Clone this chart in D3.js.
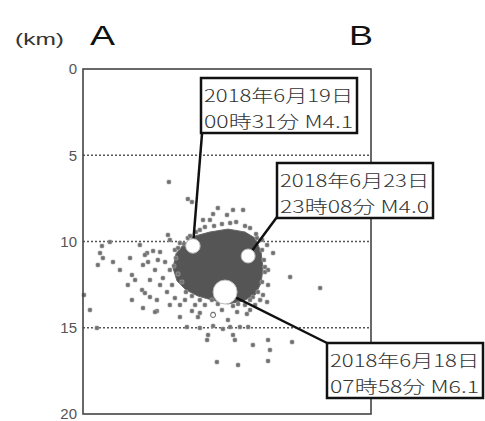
<!DOCTYPE html>
<html>
<head>
<meta charset="utf-8">
<script src="https://cdn.jsdelivr.net/npm/d3@7"></script>
<style>
  html, body { margin: 0; padding: 0; background: #fff; }
  svg { display: block; }
</style>
</head>
<body>
<div id="chart"></div>
<script>
// depth ticks (km)
const depthTicks = [0, 5, 10, 15, 20];
const gridDepths = [5, 10, 15];

// aftershock hypocenters: position along A-B (km from centre) and depth (km)
const quakeX = [
  -2.42, -1.63, -1.46, -1.00, -0.71, -0.38, 0.00, 0.25, 0.67, -0.58,
  -2.46, -2.38, -5.21, -4.88, -5.29, -5.38, -4.75, -5.17, -3.33, -3.08,
  -2.79, -3.42, -3.50, -3.29, -3.96, -3.83, -4.13, -3.54, -3.96, -3.21,
  -2.92, -3.50, -2.92, -5.71, -5.96, -5.42, -3.42, -3.00, -1.96, -1.46,
  -1.13, -0.58, 0.04, 0.25, 0.83, 1.08, 1.38, 1.67, 1.71, -1.67,
  -1.13, -0.58, -0.17, 0.13, 0.54, 0.88, -0.83, -0.79, 0.25, 0.33,
  1.08, 1.71, 1.79, 2.71, -0.42, 0.46, 1.71, 3.88, 1.67, 1.92,
  1.58, 2.63, 1.71, 1.50, -1.21, -0.21, 0.42,
  -2.58, -2.38, -2.67, -2.29, -2.50, -2.17, -2.79, -1.96, -1.75, -2.38,
  -3.00, -3.21, -2.88, -2.17, -1.96, -1.63, -1.33, -0.92, -0.63, 0.75,
  1.17, 0.96, -1.29, -0.92, -0.21, 0.38, 0.96, 1.25, 1.46, -3.63,
  -4.04, -4.46,
  -2.04, -2.13, -2.21, -2.04, -1.88, -1.71, -1.46, -1.13, -0.38, 0.46,
  0.96, 1.29, 1.46, 1.58, 1.54, 1.46, 1.21, 0.75, 0.13, -0.54,
  -1.13, -1.54, -1.79
];
const quakeDepth = [
  6.55, 7.54, 7.71, 8.75, 8.75, 8.06, 8.46, 8.17, 8.17, 8.41,
  9.62, 9.91, 10.26, 10.03, 10.67, 11.36, 11.19, 10.96, 10.67, 10.55,
  10.61, 10.78, 11.36, 11.19, 11.94, 12.23, 12.52, 12.81, 13.39, 13.22,
  13.39, 13.86, 14.03, 13.97, 13.10, 15.01, 12.99, 14.09, 14.38, 14.03,
  14.14, 14.20, 14.55, 13.74, 14.20, 13.22, 13.39, 13.51, 12.52, 14.96,
  15.01, 14.90, 15.07, 14.96, 14.96, 14.96, 15.71, 15.42, 15.42, 15.71,
  16.00, 15.71, 16.29, 15.83, 16.99, 17.16, 16.93, 12.70, 10.20, 10.67,
  11.48, 12.06, 11.65, 13.10, 14.38, 13.97, 14.09,
  11.19, 11.65, 12.12, 12.52, 12.93, 13.28, 12.52, 13.68, 13.39, 13.68,
  11.65, 12.23, 11.07, 10.49, 10.09, 9.80, 13.68, 13.68, 13.39, 13.68,
  13.68, 13.97, 9.45, 9.16, 8.99, 8.87, 9.22, 9.80, 10.49, 10.20,
  10.96, 11.65,
  10.38, 10.96, 11.42, 11.88, 12.35, 12.93, 13.16, 13.39, 13.62, 13.62,
  13.39, 12.93, 12.35, 11.77, 11.07, 9.91, 9.57, 9.10, 8.93, 9.10,
  9.33, 9.68, 10.14
];
// hollow marker
const hollowX = [-0.58];
const hollowDepth = [14.26];

// outline of the densest part of the swarm
const coreX = [-1.83, -1.33, -0.71, 0.04, 0.75, 1.17, 1.42, 1.50, 1.42, 1.17, 0.67, 0.04, -0.63, -1.21, -1.71, -2.08, -2.25, -2.13];
const coreDepth = [10.20, 9.68, 9.45, 9.28, 9.45, 9.80, 10.61, 11.54, 12.41, 13.10, 13.45, 13.62, 13.39, 13.16, 12.81, 12.29, 11.54, 10.72];

// labelled events
const eventDates = ['2018年6月19日', '2018年6月23日', '2018年6月18日'];
const eventTimes = ['00時31分 M4.1', '23時08分 M4.0', '07時58分 M6.1'];
const eventMag = [4.1, 4.0, 6.1];
const eventX = [-1.42, 0.88, -0.08];
const eventDepth = [10.26, 10.84, 12.93];

const width = 485;
const height = 421;
const margin = {top: 69, right: 114, bottom: 7, left: 83};

const svg = d3.select('#chart').append('svg')
  .attr('width', width)
  .attr('height', height);

const x = d3.scaleLinear()
  .domain([-6, 6])
  .range([margin.left, width - margin.right]);

const y = d3.scaleLinear()
  .domain([0, 20])
  .range([margin.top, height - margin.bottom]);

const r = d3.scaleLinear()
  .domain([4.0, 6.1])
  .range([7, 12]);

// Header labels
svg.append('text')
  .attr('x', 15).attr('y', 45)
  .attr('font-family', 'Liberation Sans, Arial, sans-serif')
  .attr('font-size', 17)
  .attr('fill', '#333')
  .attr('textLength', 49)
  .attr('lengthAdjust', 'spacingAndGlyphs')
  .text('(km)');

svg.append('text')
  .attr('x', 90).attr('y', 45)
  .attr('font-family', 'Liberation Sans, Arial, sans-serif')
  .attr('font-size', 28)
  .attr('fill', '#111')
  .attr('textLength', 25)
  .attr('lengthAdjust', 'spacingAndGlyphs')
  .text('A');

svg.append('text')
  .attr('x', 349).attr('y', 45)
  .attr('font-family', 'Liberation Sans, Arial, sans-serif')
  .attr('font-size', 28)
  .attr('fill', '#111')
  .attr('textLength', 24)
  .attr('lengthAdjust', 'spacingAndGlyphs')
  .text('B');

// Grid lines
svg.append('g')
  .selectAll('line')
  .data(gridDepths)
  .join('line')
  .attr('x1', x(-6)).attr('x2', x(6))
  .attr('y1', d => y(d)).attr('y2', d => y(d))
  .attr('stroke', '#555')
  .attr('stroke-width', 1.6)
  .attr('stroke-dasharray', '2,2');

// Y axis
svg.append('g')
  .attr('transform', `translate(${margin.left},0)`)
  .call(d3.axisLeft(y).tickValues(depthTicks).tickSize(0).tickPadding(6))
  .call(g => g.select('.domain').remove())
  .call(g => g.selectAll('text')
    .attr('font-family', 'Liberation Sans, Arial, sans-serif')
    .attr('font-size', 15)
    .attr('fill', '#555'));

// Swarm core
const core = coreX.map((d, i) => [x(d), y(coreDepth[i])]);
svg.append('path')
  .attr('d', d3.line().curve(d3.curveLinearClosed)(core))
  .attr('fill', '#555')
  .attr('stroke', '#666')
  .attr('stroke-width', 1);

// Aftershocks
const quakes = quakeX.map((d, i) => ({x: d, depth: quakeDepth[i]}));
svg.append('g')
  .selectAll('rect')
  .data(quakes)
  .join('rect')
  .attr('x', d => x(d.x) - 2)
  .attr('y', d => y(d.depth) - 2)
  .attr('width', 4)
  .attr('height', 4)
  .attr('rx', 1)
  .attr('fill', '#707070')
  .attr('stroke', '#aaa')
  .attr('stroke-width', 0.6);

svg.append('g')
  .selectAll('circle')
  .data(hollowX.map((d, i) => ({x: d, depth: hollowDepth[i]})))
  .join('circle')
  .attr('cx', d => x(d.x))
  .attr('cy', d => y(d.depth))
  .attr('r', 2.5)
  .attr('fill', '#fff')
  .attr('stroke', '#666')
  .attr('stroke-width', 1);

// Frame
svg.append('rect')
  .attr('x', x(-6)).attr('y', y(0))
  .attr('width', x(6) - x(-6))
  .attr('height', y(20) - y(0))
  .attr('fill', 'none')
  .attr('stroke', '#444')
  .attr('stroke-width', 1.6);

// Labelled events
const events = eventDates.map((d, i) => ({
  date: d, time: eventTimes[i], mag: eventMag[i], x: eventX[i], depth: eventDepth[i]
}));
// callout boxes: top-left corner and leader anchor on the box
const boxes = [
  {bx: 201, by: 78, ax: 202, ay: 134},
  {bx: 277, by: 163, ax: 277, ay: 217},
  {bx: 327, by: 343, ax: 327, ay: 343}
];
const boxW = 156;
const boxH = 55;

svg.append('g')
  .selectAll('line')
  .data(events)
  .join('line')
  .attr('x1', (d, i) => boxes[i].ax)
  .attr('y1', (d, i) => boxes[i].ay)
  .attr('x2', d => x(d.x))
  .attr('y2', d => y(d.depth))
  .attr('stroke', '#111')
  .attr('stroke-width', 2.5);

svg.append('g')
  .selectAll('circle')
  .data(events)
  .join('circle')
  .attr('cx', d => x(d.x))
  .attr('cy', d => y(d.depth))
  .attr('r', d => r(d.mag))
  .attr('fill', '#fff')
  .attr('stroke', '#bbb')
  .attr('stroke-width', 1);

const box = svg.append('g')
  .selectAll('g')
  .data(events)
  .join('g')
  .attr('transform', (d, i) => `translate(${boxes[i].bx},${boxes[i].by})`);

box.append('rect')
  .attr('width', boxW)
  .attr('height', boxH)
  .attr('fill', '#fff')
  .attr('stroke', '#111')
  .attr('stroke-width', 2.5);

box.append('text')
  .attr('x', 3).attr('y', 24)
  .attr('font-family', 'Noto Sans CJK JP, sans-serif')
  .attr('font-size', 17)
  .attr('font-weight', 300)
  .attr('fill', '#333')
  .attr('textLength', 149)
  .attr('lengthAdjust', 'spacingAndGlyphs')
  .text(d => d.date);

box.append('text')
  .attr('x', 3).attr('y', 50)
  .attr('font-family', 'Noto Sans CJK JP, sans-serif')
  .attr('font-size', 17)
  .attr('font-weight', 300)
  .attr('fill', '#333')
  .attr('textLength', 149)
  .attr('lengthAdjust', 'spacingAndGlyphs')
  .text(d => d.time);
</script>
</body>
</html>
